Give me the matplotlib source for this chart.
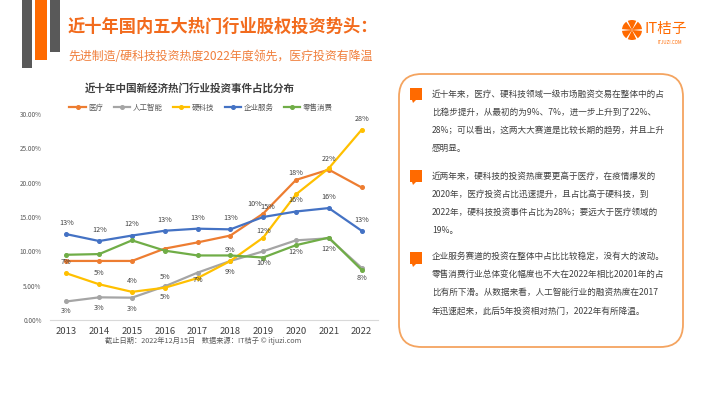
import numpy as np
import matplotlib
matplotlib.use('Agg')
from matplotlib import pyplot as plt
from matplotlib.patches import FancyBboxPatch, Rectangle, Wedge, Polygon
from matplotlib.ticker import FuncFormatter

plt.rcParams['font.family'] = ['Noto Sans CJK SC', 'DejaVu Sans']

years = [2013, 2014, 2015, 2016, 2017, 2018, 2019, 2020, 2021, 2022]

# shares of investment events (%)
medical = [8.6, 8.6, 8.6, 10.4, 11.3, 12.3, 15.5, 20.4, 21.9, 19.3]
ai = [2.7, 3.3, 3.25, 4.9, 6.9, 8.6, 10.0, 11.6, 11.9, 7.6]
hardtech = [6.8, 5.2, 4.1, 4.7, 6.1, 8.6, 12.0, 18.3, 22.1, 27.7]
enterprise = [12.5, 11.5, 12.3, 13.0, 13.3, 13.2, 15.0, 15.8, 16.3, 13.0]
retail = [9.5, 9.6, 11.6, 10.1, 9.4, 9.4, 9.1, 10.9, 12.0, 7.3]

series_names = ['医疗', '人工智能', '硬科技', '企业服务', '零售消费']
series_colors = ['#ED7D31', '#A5A5A5', '#FFC000', '#4472C4', '#70AD47']

# data labels shown on the chart (None = no label)
medical_labels = [None, None, None, None, None, None, '10%', '18%', None, None]
ai_labels = ['3%', '3%', '3%', '5%', None, '9%', None, None, None, None]
hardtech_labels = ['7%', '5%', '4%', '5%', '7%', '9%', '12%', None, '22%', '28%']
enterprise_labels = ['13%', '12%', '12%', '13%', '13%', '13%', '15%', '16%', '16%', '13%']
retail_labels = [None, None, None, None, None, None, '10%', '12%', '12%', '8%']

title = '近十年国内五大热门行业股权投资势头：'
subtitle = '先进制造/硬科技投资热度2022年度领先，医疗投资有降温'
chart_title = '近十年中国新经济热门行业投资事件占比分布'
footnote = '截止日期：2022年12月15日    数据来源：IT桔子 © itjuzi.com'

paragraphs = [
    ['近十年来，医疗、硬科技领域一级市场融资交易在整体中的占',
     '比稳步提升，从最初的为9%、7%，进一步上升到了22%、',
     '28%；可以看出，这两大大赛道是比较长期的趋势，并且上升',
     '感明显。'],
    ['近两年来，硬科技的投资热度要更高于医疗，在疫情爆发的',
     '2020年，医疗投资占比迅速提升，且占比高于硬科技，到',
     '2022年，硬科技投资事件占比为28%；要远大于医疗领域的',
     '19%。'],
    ['企业服务赛道的投资在整体中占比比较稳定，没有大的波动。',
     '零售消费行业总体变化幅度也不大在2022年相比20201年的占',
     '比有所下滑。从数据来看，人工智能行业的融资热度在2017',
     '年迅速起来，此后5年投资相对热门，2022年有所降温。'],
]

W, H = 710, 399
fig = plt.figure(figsize=(W / 100, H / 100), dpi=100)
fig.patch.set_facecolor('white')


def fx(px):
  return px / W


def fy(py):
  return 1 - py / H


# decorative bars top-left
for x0, x1, y1, c in [(22, 32, 68, '#595959'), (35, 47, 60, '#FF6A00'), (50, 60, 52, '#595959')]:
  fig.patches.append(Rectangle((fx(x0), fy(y1)), fx(x1 - x0), y1 / H, transform=fig.transFigure,
                               facecolor=c, edgecolor='none'))

fig.text(fx(68), fy(27), title, fontsize=12.4, fontweight='bold', color='#F26B1D', va='center', ha='left')
fig.text(fx(68), fy(57), subtitle, fontsize=8.6, color='#F07F3C', va='center', ha='left')

# logo
lax = fig.add_axes([fx(622), fy(40), fx(20), 20 / H])
lax.set_xlim(-1, 1)
lax.set_ylim(-1, 1)
lax.set_aspect('equal')
lax.axis('off')
for k in range(6):
  lax.add_patch(Wedge((0, 0), 1, k * 60 + 5, k * 60 + 55, facecolor='#FF6A00', edgecolor='none'))
fig.text(fx(645), fy(29), 'IT桔子', fontsize=10.5, color='#FF6A00', va='center', ha='left')
fig.text(fx(670), fy(42), 'ITJUZI.COM', fontsize=3.2, color='#FF6A00', va='center', ha='center')

# main chart
ax = fig.add_axes([fx(50), fy(320), fx(378 - 50), (320 - 114) / H])
all_series = [medical, ai, hardtech, enterprise, retail]
for vals, name, col in zip(all_series, series_names, series_colors):
  ax.plot(years, vals, color=col, lw=1.6, marker='o', ms=2.6, label=name)

ax.set_xlim(2012.5, 2022.5)
ax.set_ylim(0, 30)
ax.set_yticks(np.arange(0, 31, 5))
ax.yaxis.set_major_formatter(FuncFormatter(lambda v, p: f'{v:.2f}%'))
ax.set_xticks(years)
ax.tick_params(axis='y', length=0, labelsize=4.6, labelcolor='#595959', pad=6)
ax.tick_params(axis='x', length=0, labelsize=6.8, labelcolor='#404040', pad=5)
for s in ['top', 'right', 'left']:
  ax.spines[s].set_visible(False)
ax.spines['bottom'].set_color('#D9D9D9')
ax.spines['bottom'].set_linewidth(0.8)
ax.set_facecolor('none')

# data labels: (values, labels, vertical offsets in points, horizontal offsets in points)
label_sets = [
    (medical, medical_labels, [0, 0, 0, 0, 0, 0, 7, 5, 0, 0], [0, 0, 0, 0, 0, 0, -6, 0, 0, 0]),
    (ai, ai_labels, [-7, -8, -8, -8, 0, 8, 0, 0, 0, 0], [0] * 10),
    (hardtech, hardtech_labels, [8, 8, 8, 8, -1.5, -8, 5, 0, 7, 8], [0] * 10),
    (enterprise, enterprise_labels, [8, 8, 8, 8, 8, 8, 7, 8, 8, 8], [0, 0, 0, 0, 0, 0, 3, 0, 0, 0]),
    (retail, retail_labels, [0, 0, 0, 0, 0, 0, -4, -5, -8, -6], [0] * 10),
]
for vals, labs, offs, dxs in label_sets:
  for yr, v, lab, dy, dx in zip(years, vals, labs, offs, dxs):
    if lab is None:
      continue
    ax.annotate(lab, (yr, v), xytext=(dx, dy), textcoords='offset points',
                ha='center', va='center', fontsize=5.2, color='#404040')

fig.text(fx(190), fy(88), chart_title, fontsize=7.6, fontweight='bold', color='#404040',
         ha='center', va='center')
leg = fig.legend(loc='center', bbox_to_anchor=(fx(201), fy(108)), ncol=5, frameon=False,
                 fontsize=5.4, handlelength=2.2, columnspacing=1.4, handletextpad=0.3,
                 labelcolor='#595959')
fig.text(fx(203), fy(341), footnote, fontsize=5.2, color='#595959', ha='center', va='center')

# right text box
fig.patches.append(FancyBboxPatch((fx(399), fy(347)), fx(683 - 399), (347 - 74) / H,
                                  boxstyle='round,pad=0,rounding_size=0.032',
                                  transform=fig.transFigure, facecolor='white',
                                  edgecolor='#F4A460', linewidth=1.3,
                                  mutation_aspect=W / H))

para_top = [94, 176, 256]
line_gap = 18.3
icon_y = [88, 170, 252]
for lines, y0, iy in zip(paragraphs, para_top, icon_y):
  fig.patches.append(Rectangle((fx(410), fy(iy + 12)), fx(12), 12 / H, transform=fig.transFigure,
                               facecolor='#FF6A00', edgecolor='none'))
  fig.patches.append(Polygon([(fx(412), fy(iy + 12)), (fx(416), fy(iy + 12)), (fx(413), fy(iy + 15))],
                             transform=fig.transFigure, facecolor='#FF6A00', edgecolor='none'))
  for i, ln in enumerate(lines):
    fig.text(fx(432), fy(y0 + i * line_gap), ln, fontsize=6.2, color='#404040',
             ha='left', va='center')

fig.savefig('out.png', dpi=100)
